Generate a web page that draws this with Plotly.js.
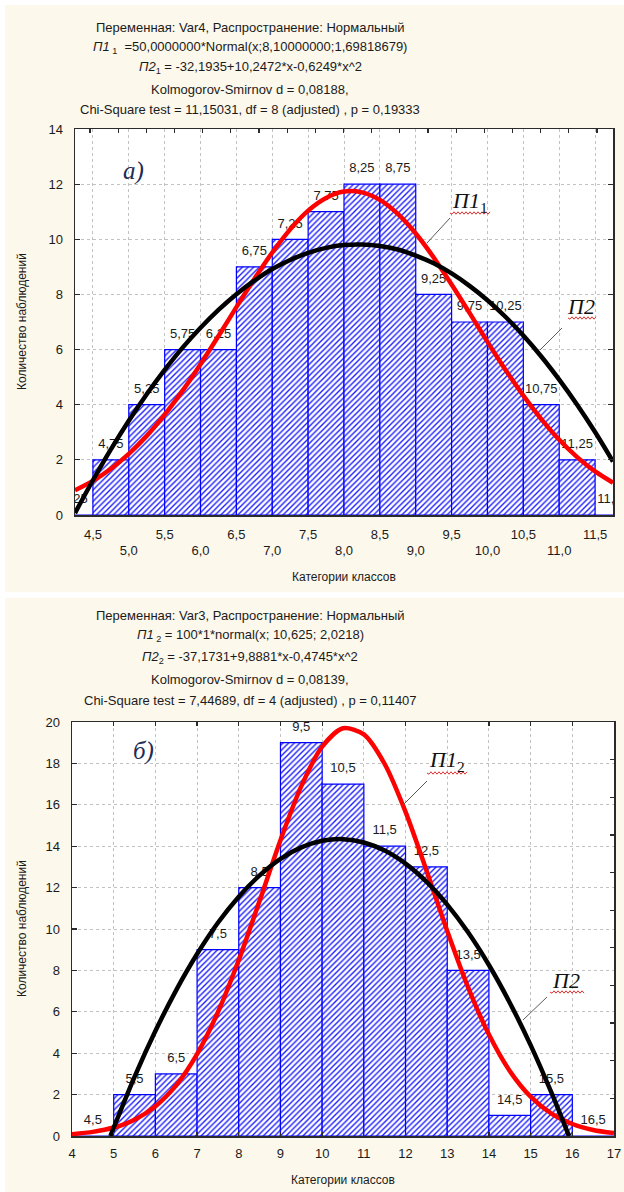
<!DOCTYPE html>
<html><head><meta charset="utf-8">
<script src="https://cdn.plot.ly/plotly-3.0.1.min.js"></script>
<style>html,body{margin:0;padding:0;background:#fdf8ec;}#chart{width:624px;height:1192px;}</style>
</head><body><div id="chart"></div>
<script>
// ---------- DATA: chart (a) ----------
const topBinCenters = [4.25,4.75,5.25,5.75,6.25,6.75,7.25,7.75,8.25,8.75,9.25,9.75,10.25,10.75,11.25,11.75];
const topBinLabels  = ['4,25','4,75','5,25','5,75','6,25','6,75','7,25','7,75','8,25','8,75','9,25','9,75','10,25','10,75','11,25','11,75'];
const topCounts     = [0,2,4,6,6,9,10,11,12,12,8,7,7,4,2,0];
const topCurveX     = [4.25,4.5,4.75,5,5.25,5.5,5.75,6,6.25,6.5,6.75,7,7.25,7.5,7.75,8,8.25,8.5,8.75,9,9.25,9.5,9.75,10,10.25,10.5,10.75,11,11.25,11.5,11.75];
const topNormalY    = [0.90,1.24,1.68,2.22,2.87,3.64,4.51,5.47,6.49,7.54,8.56,9.52,10.36,11.04,11.50,11.73,11.70,11.43,10.92,10.21,9.34,8.36,7.33,6.28,5.27,4.33,3.48,2.73,2.10,1.58,1.17];
const topQuadY      = [0.07,1.26,2.38,3.42,4.38,5.26,6.07,6.79,7.44,8.01,8.50,8.92,9.25,9.51,9.69,9.79,9.81,9.76,9.63,9.41,9.13,8.76,8.31,7.79,7.19,6.51,5.75,4.91,4.00,3.01,1.94];
const topTickRow1Vals = [4.5,5.5,6.5,7.5,8.5,9.5,10.5,11.5];
const topTickRow1Text = ['4,5','5,5','6,5','7,5','8,5','9,5','10,5','11,5'];
const topTickRow2Vals = [5,6,7,8,9,10,11];
const topTickRow2Text = ['5,0','6,0','7,0','8,0','9,0','10,0','11,0'];
const topTitleLines = [
  'Переменная: Var4, Распространение: Нормальный',
  '<i>П1</i><sub> 1</sub>  =50,0000000*Normal(x;8,10000000;1,69818679)',
  '<i>П2</i><sub>1</sub> = -32,1935+10,2472*x-0,6249*x^2',
  'Kolmogorov-Smirnov d = 0,08188,',
  'Chi-Square test = 11,15031, df = 8 (adjusted) , p = 0,19333'
];

// ---------- DATA: chart (б) ----------
const botBinCenters = [4.5,5.5,6.5,7.5,8.5,9.5,10.5,11.5,12.5,13.5,14.5,15.5,16.5];
const botBinLabels  = ['4,5','5,5','6,5','7,5','8,5','9,5','10,5','11,5','12,5','13,5','14,5','15,5','16,5'];
const botCounts     = [0,2,3,9,12,19,17,14,13,8,1,2,0];
const botNormalX    = [4,4.5,5,5.5,6,6.5,7,7.5,8,8.5,9,9.5,10,10.5,11,11.5,12,12.5,13,13.5,14,14.5,15,15.5,16,16.5,17];
const botNormalY    = [0.09,0.20,0.41,0.79,1.44,2.46,3.96,5.98,8.50,11.36,14.29,16.90,18.81,19.70,19.40,17.97,15.66,12.84,9.90,7.18,4.90,3.14,1.90,1.08,0.58,0.29,0.14];
const botQuadX      = [4.92,5,5.5,6,6.5,7,7.5,8,8.5,9,9.5,10,10.5,11,11.5,12,12.5,13,13.5,14,14.5,15,15.5,15.92];
const botQuadY      = [0,0.40,2.86,5.07,7.05,8.79,10.30,11.56,12.59,13.39,13.94,14.26,14.34,14.18,13.79,13.16,12.29,11.18,9.84,8.26,6.44,4.39,2.09,0];
const botTitleLines = [
  'Переменная: Var3, Распространение: Нормальный',
  '<i>П1</i><sub> 2</sub> = 100*1*normal(x; 10,625; 2,0218)',
  '<i>П2</i><sub>2</sub> = -37,1731+9,8881*x-0,4745*x^2',
  'Kolmogorov-Smirnov d = 0,08139,',
  'Chi-Square test = 7,44689, df = 4 (adjusted) , p = 0,11407'
];
const yTitle = 'Количество наблюдений';
const xTitle = 'Категории классов';

// ---------- LAYOUT HELPERS ----------
const W = 624, H = 1192;
const X = px => px / W;
const Y = py => 1 - py / H;
const SANS = 'Liberation Sans, Arial, sans-serif';
const SERIF = 'Liberation Serif, Times New Roman, serif';
const TXT = '#1b1b1b';
const FRAME = '#2b2b2b';
const GRID = '#c2c2c2';

function barTrace(x, y, w, xa, ya) {
  return {type:'bar', x:x, y:y, width:w, xaxis:xa, yaxis:ya, hoverinfo:'skip',
    marker:{color:'#ffffff', line:{color:'#0000ff', width:1.2},
      pattern:{shape:'/', fgcolor:'#1a1aff', bgcolor:'#ffffff', size:4, solidity:0.34}}};
}
function textTrace(x, y, t, xa, ya) {
  return {type:'scatter', mode:'markers+text', x:x, y:y, text:t, xaxis:xa, yaxis:ya, hoverinfo:'skip',
    marker:{size:12, opacity:0}, textposition:'top center', cliponaxis:true,
    textfont:{family:SANS, size:13, color:TXT}};
}
function lineTrace(x, y, color, xa, ya) {
  return {type:'scatter', mode:'lines', x:x, y:y, xaxis:xa, yaxis:ya, hoverinfo:'skip',
    line:{color:color, width:4.5, shape:'spline', smoothing:0.8}, cliponaxis:true};
}
// empty traces only to register the auxiliary tick axes
function axisHolder(xa, ya) {
  return {type:'scatter', mode:'lines', x:[], y:[], xaxis:xa, yaxis:ya, hoverinfo:'skip'};
}

const traces = [
  barTrace(topBinCenters, topCounts, 0.5, 'x', 'y'),
  textTrace(topBinCenters, topCounts, topBinLabels, 'x', 'y'),
  lineTrace(topCurveX, topNormalY, '#ff0000', 'x', 'y'),
  lineTrace(topCurveX, topQuadY, '#000000', 'x', 'y'),
  barTrace(botBinCenters, botCounts, 1, 'x2', 'y2'),
  textTrace(botBinCenters, botCounts, botBinLabels, 'x2', 'y2'),
  lineTrace(botNormalX, botNormalY, '#ff0000', 'x2', 'y2'),
  lineTrace(botQuadX, botQuadY, '#000000', 'x2', 'y2'),
  axisHolder('x3', 'y'),
  axisHolder('x4', 'y'),
  axisHolder('x2', 'y3')
];

const tickFont = {family:SANS, size:13, color:TXT};
const baseAx = {zeroline:false, fixedrange:true, tickfont:tickFont};

const annotations = [];
function addText(text, px, py, opts) {
  annotations.push(Object.assign({text:text, x:X(px), y:Y(py), xref:'paper', yref:'paper',
    showarrow:false, xanchor:'center', yanchor:'middle', font:{family:SANS, size:13, color:TXT}}, opts || {}));
}
const titleX = 250;
const topTitleY = [27, 47, 68, 89, 109];
const botTitleY = [615, 636, 657, 679, 700];
topTitleLines.forEach((t, i) => addText(t, titleX, topTitleY[i]));
botTitleLines.forEach((t, i) => addText(t, titleX, botTitleY[i]));
addText(xTitle, 344, 577, {font:{family:SANS, size:12, color:TXT}});
addText(xTitle, 343, 1180, {font:{family:SANS, size:12, color:TXT}});
addText(yTitle, 22, 322, {textangle:-90, font:{family:SANS, size:12, color:TXT}});
addText(yTitle, 22, 929, {textangle:-90, font:{family:SANS, size:12, color:TXT}});
addText('<i>а)</i>', 133, 171, {font:{family:SERIF, size:25, color:'#1f2c55'}});
addText('<i>б)</i>', 143, 751, {font:{family:SERIF, size:25, color:'#1f2c55'}});
addText('<i>П1</i><sub>1</sub>', 470, 202, {font:{family:SERIF, size:22, color:'#111'}});
addText('<i>П2</i>', 581, 306, {font:{family:SERIF, size:22, color:'#111'}});
addText('<i>П1</i><sub>2</sub>', 447, 761, {font:{family:SERIF, size:22, color:'#111'}});
addText('<i>П2</i>', 566, 980, {font:{family:SERIF, size:22, color:'#111'}});

const shapes = [
  {type:'rect', xref:'paper', yref:'paper', x0:X(0), x1:X(5), y0:0, y1:1, fillcolor:'#ffffff', line:{width:0}, layer:'below'},
  {type:'rect', xref:'paper', yref:'paper', x0:0, x1:1, y0:Y(5), y1:1, fillcolor:'#ffffff', line:{width:0}, layer:'below'},
  {type:'rect', xref:'paper', yref:'paper', x0:0, x1:1, y0:Y(598), y1:Y(592), fillcolor:'#ffffff', line:{width:0}, layer:'below'}
];
function leader(x0, y0, x1, y1) {
  shapes.push({type:'line', xref:'paper', yref:'paper', x0:X(x0), y0:Y(y0), x1:X(x1), y1:Y(y1), line:{color:'#5a5a5a', width:1}});
}
function wavy(x0, x1, py) {
  let d = 'M' + X(x0) + ',' + Y(py);
  let k = 0;
  for (let x = x0 + 2; x <= x1; x += 2, k++) d += ' L' + X(x) + ',' + Y(py + (k % 2 ? -1.2 : 1.2));
  shapes.push({type:'path', xref:'paper', yref:'paper', path:d, line:{color:'#e03030', width:1}});
}
leader(450, 218, 427, 243);
leader(562, 328, 540, 350);
leader(427, 781, 403, 805);
leader(547, 997, 523, 1020);
wavy(450, 490, 213);
wavy(568, 596, 318);
wavy(427, 467, 773);
wavy(550, 584, 992);

const layout = {
  width:W, height:H, margin:{l:0, r:0, t:0, b:0, pad:0},
  paper_bgcolor:'#fdf8ec', plot_bgcolor:'#ffffff', showlegend:false, bargap:0,
  annotations:annotations, shapes:shapes,
  xaxis:Object.assign({}, baseAx, {domain:[X(75), X(613)], range:[4.25, 11.75], anchor:'y',
    tickmode:'array', tickvals:topTickRow1Vals, ticktext:topTickRow1Text, ticks:'',
    showline:true, mirror:true, linecolor:FRAME, linewidth:1.5,
    showgrid:true, gridcolor:GRID, griddash:'dot', gridwidth:1, ticklabelstandoff:7}),
  xaxis3:Object.assign({}, baseAx, {overlaying:'x', anchor:'y', side:'bottom', range:[4.25, 11.75],
    tickmode:'array', tickvals:topTickRow2Vals, ticktext:topTickRow2Text, ticks:'',
    showline:false, showgrid:true, gridcolor:GRID, griddash:'dot', gridwidth:1, ticklabelstandoff:26}),
  xaxis4:Object.assign({}, baseAx, {overlaying:'x', anchor:'y', side:'top', range:[-0.532, 18.568],
    tickmode:'linear', tick0:0, dtick:1, ticks:'inside', ticklen:4, tickcolor:FRAME, tickwidth:1.2,
    showticklabels:false, showgrid:false, showline:false}),
  yaxis:Object.assign({}, baseAx, {domain:[Y(515), Y(129)], range:[0, 14], anchor:'x',
    tickmode:'linear', tick0:0, dtick:2, ticks:'inside', ticklen:5, tickcolor:FRAME, tickwidth:1.2,
    showline:true, mirror:'ticks', linecolor:FRAME, linewidth:1.5,
    showgrid:true, gridcolor:GRID, griddash:'dot', gridwidth:1, ticklabelstandoff:8}),
  xaxis2:Object.assign({}, baseAx, {domain:[X(72), X(614)], range:[4, 17], anchor:'y2',
    tickmode:'linear', tick0:4, dtick:1, ticks:'inside', ticklen:4, tickcolor:FRAME, tickwidth:1.2,
    showline:true, mirror:'ticks', linecolor:FRAME, linewidth:1.5,
    showgrid:true, gridcolor:GRID, griddash:'dot', gridwidth:1, ticklabelstandoff:5}),
  yaxis2:Object.assign({}, baseAx, {domain:[Y(1136), Y(722)], range:[0, 20], anchor:'x2',
    tickmode:'linear', tick0:0, dtick:2, ticks:'inside', ticklen:5, tickcolor:FRAME, tickwidth:1.2,
    showline:true, mirror:true, linecolor:FRAME, linewidth:1.5,
    showgrid:true, gridcolor:GRID, griddash:'dot', gridwidth:1, ticklabelstandoff:8}),
  yaxis3:Object.assign({}, baseAx, {overlaying:'y2', anchor:'x2', side:'right', range:[0, 11],
    tickmode:'linear', tick0:0, dtick:1, ticks:'inside', ticklen:4, tickcolor:FRAME, tickwidth:1.2,
    showticklabels:false, showgrid:false, showline:false})
};

Plotly.newPlot('chart', traces, layout, {staticPlot:true, displayModeBar:false});
</script></body></html>
